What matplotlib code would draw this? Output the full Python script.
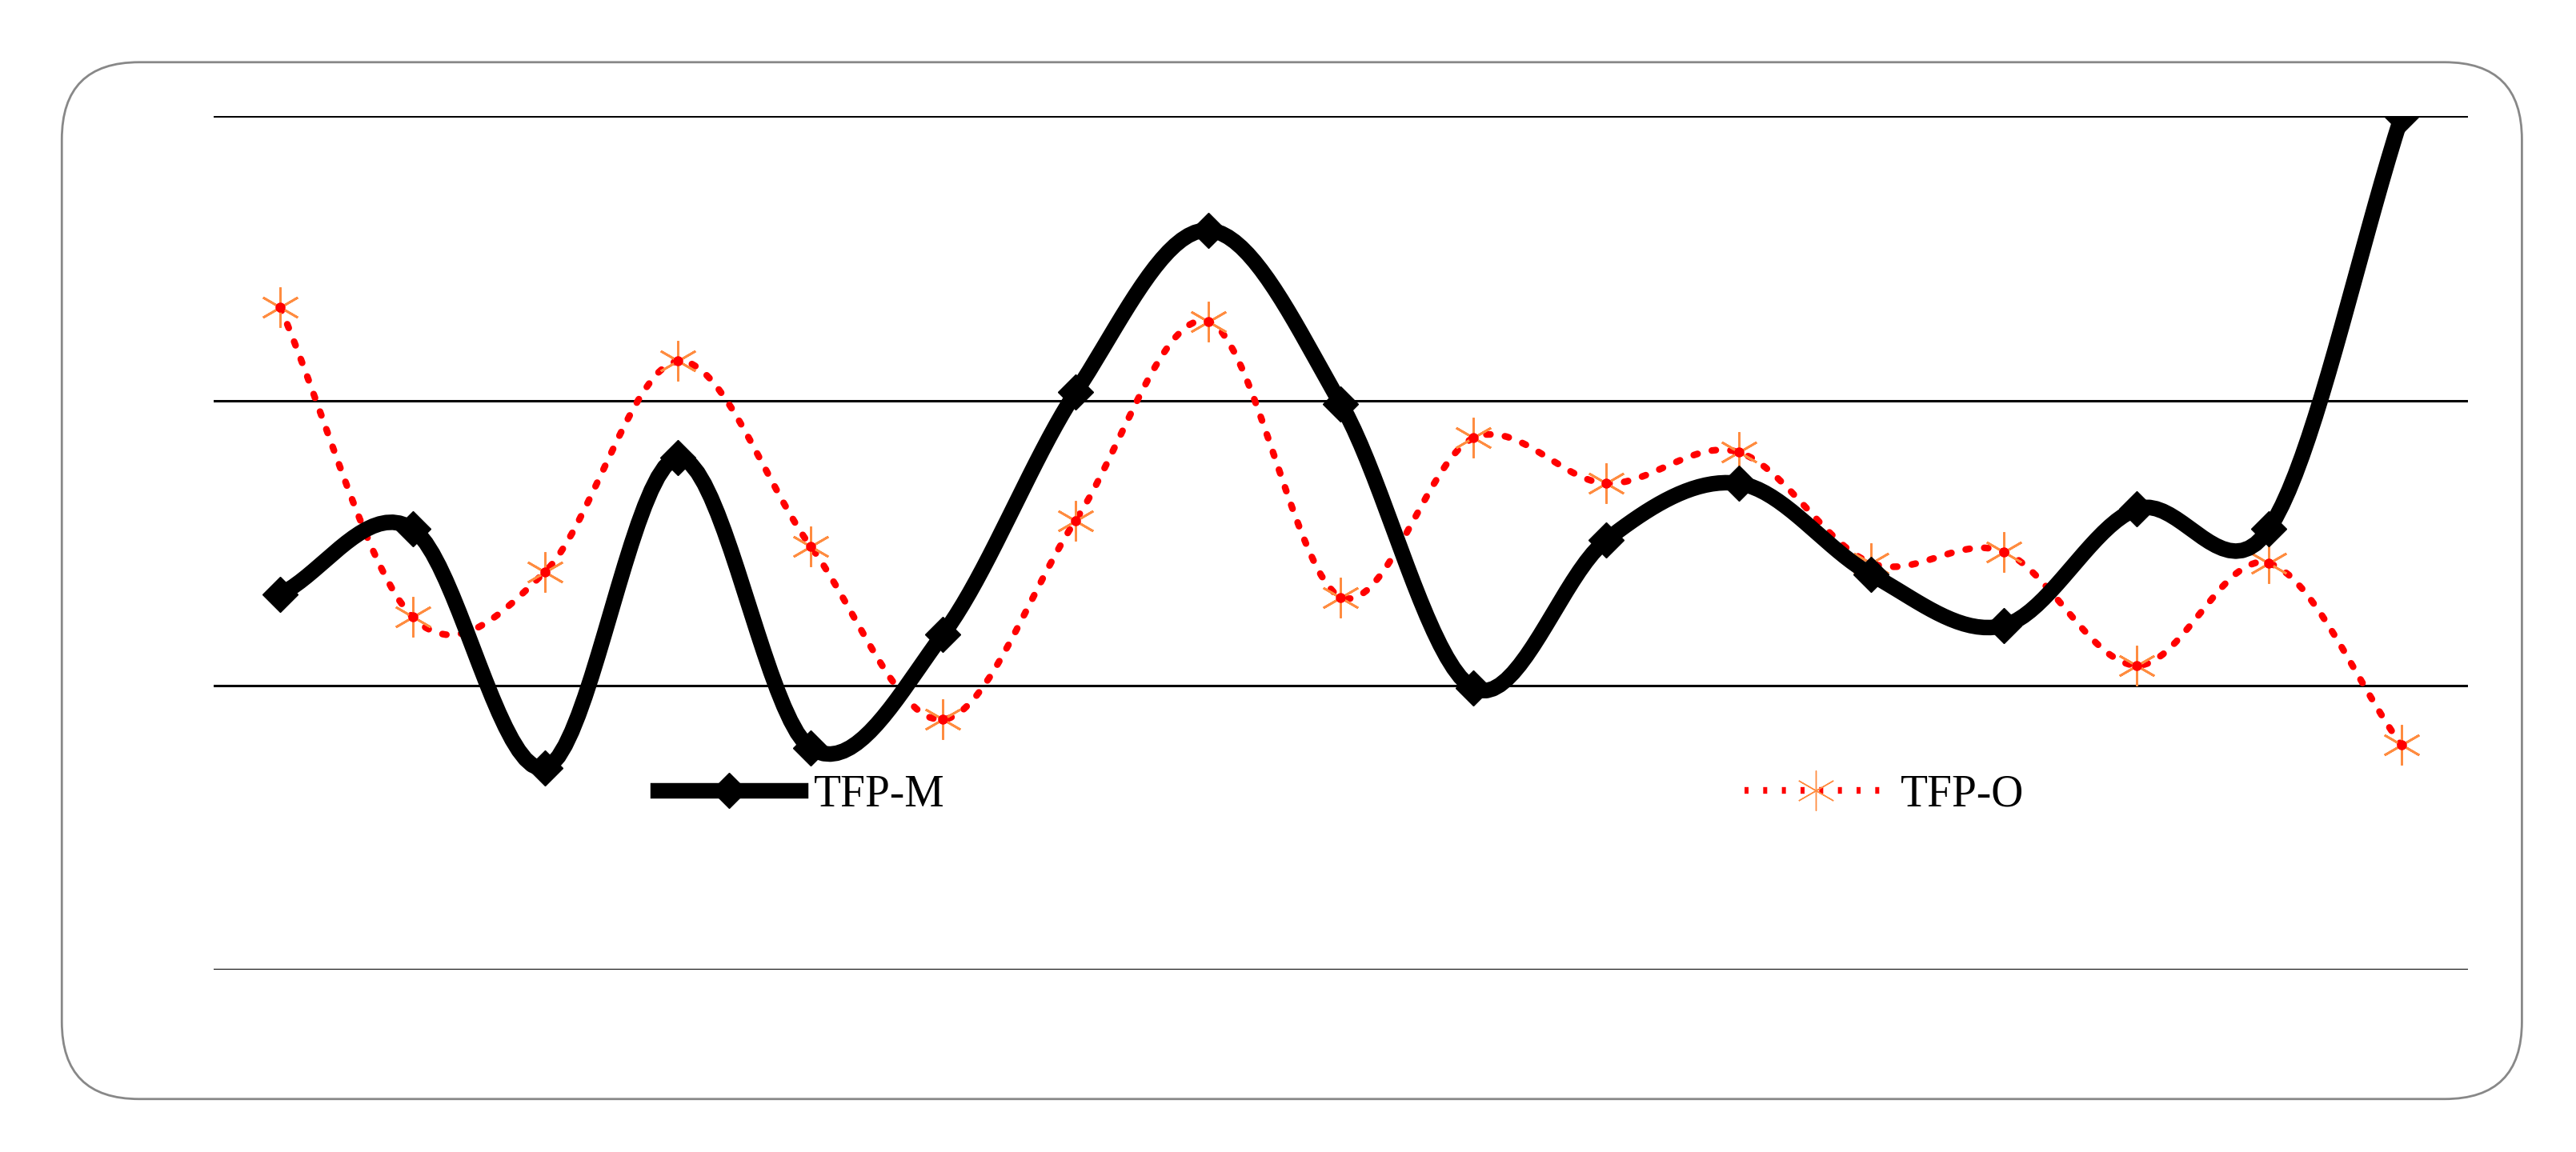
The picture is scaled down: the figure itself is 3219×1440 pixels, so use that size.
import numpy as np
import matplotlib.pyplot as plt
from matplotlib.patches import FancyBboxPatch
from matplotlib.lines import Line2D

periods = list(range(1, 18))
tfp_m = [1.32, 1.55, 0.71, 1.80, 0.78, 1.18, 2.03, 2.60, 1.99, 0.99, 1.51, 1.71, 1.39, 1.21, 1.62, 1.55, 3.00]
tfp_o = [2.33, 1.24, 1.40, 2.14, 1.49, 0.88, 1.58, 2.28, 1.31, 1.87, 1.71, 1.82, 1.43, 1.47, 1.07, 1.43, 0.79]
grid_levels = [0, 1, 2, 3]


def smooth(y, n=20):
    # Catmull-Rom style curve through the points (like Excel smoothed lines)
    y = np.asarray(y, float)
    x = np.arange(len(y), dtype=float)
    p = np.concatenate([[2 * y[0] - y[1]], y, [2 * y[-1] - y[-2]]])
    xs, ys = [], []
    for i in range(len(y) - 1):
        t = np.linspace(0, 1, n, endpoint=False)
        p0, p1, p2, p3 = p[i], p[i + 1], p[i + 2], p[i + 3]
        yy = 0.5 * (2 * p1 + (-p0 + p2) * t + (2 * p0 - 5 * p1 + 4 * p2 - p3) * t**2
                    + (-p0 + 3 * p1 - 3 * p2 + p3) * t**3)
        xs.append(x[i] + t)
        ys.append(yy)
    xs.append([x[-1]])
    ys.append([y[-1]])
    return np.concatenate(xs), np.concatenate(ys)


fig = plt.figure(figsize=(32.19, 14.40), dpi=100)
border = FancyBboxPatch((0.024, 0.046), 0.955, 0.9, boxstyle="round,pad=0,rounding_size=0.03",
                        transform=fig.transFigure, fc='none', ec='#888888', lw=2,
                        mutation_aspect=3219 / 1440)
fig.patches.append(border)
ax = fig.add_axes([0.083, 0.158, 0.875, 0.741])
ax.set_facecolor('none')

for g in grid_levels:
    ax.axhline(g, color='black', lw=2.2, zorder=0)

x = np.arange(len(periods))
sx, sy = smooth(tfp_m)
ax.plot(sx, sy, color='black', lw=14, solid_capstyle='round', zorder=3)
ax.plot(x, tfp_m, 'D', color='black', ms=22, zorder=4)
ox, oy = smooth(tfp_o)
ax.plot(ox, oy, color='#ff0000', lw=6, ls=(0, (0.6, 2.2)), dash_capstyle='round', zorder=2)
ax.plot(x, tfp_o, marker=(6, 2, 0), ls='none', color='#ff8c40', ms=36, mew=2, zorder=2)
ax.plot(x, tfp_o, 'o', color='#ff0000', ms=8, zorder=2)

h1 = Line2D([], [], color='black', lw=14, marker='D', ms=22)
h2 = Line2D([], [], color='#ff0000', lw=6, ls=(0, (0.6, 2.2)), marker=(6, 2, 0), ms=36, mec='#ff8c40')
ax.legend([h1, h2], ['TFP-M', 'TFP-O'], loc='center', bbox_to_anchor=(0.5, 0.205), ncol=2,
          frameon=False, prop={'family': 'Liberation Serif', 'size': 40}, columnspacing=18,
          handlelength=3.2, handletextpad=0.3)

ax.set_xlim(-0.5, len(periods) - 0.5)
ax.set_ylim(0, 3)
for s in ax.spines.values():
    s.set_visible(False)
ax.set_xticks([])
ax.set_yticks([])

fig.savefig('out.png', dpi=100)
